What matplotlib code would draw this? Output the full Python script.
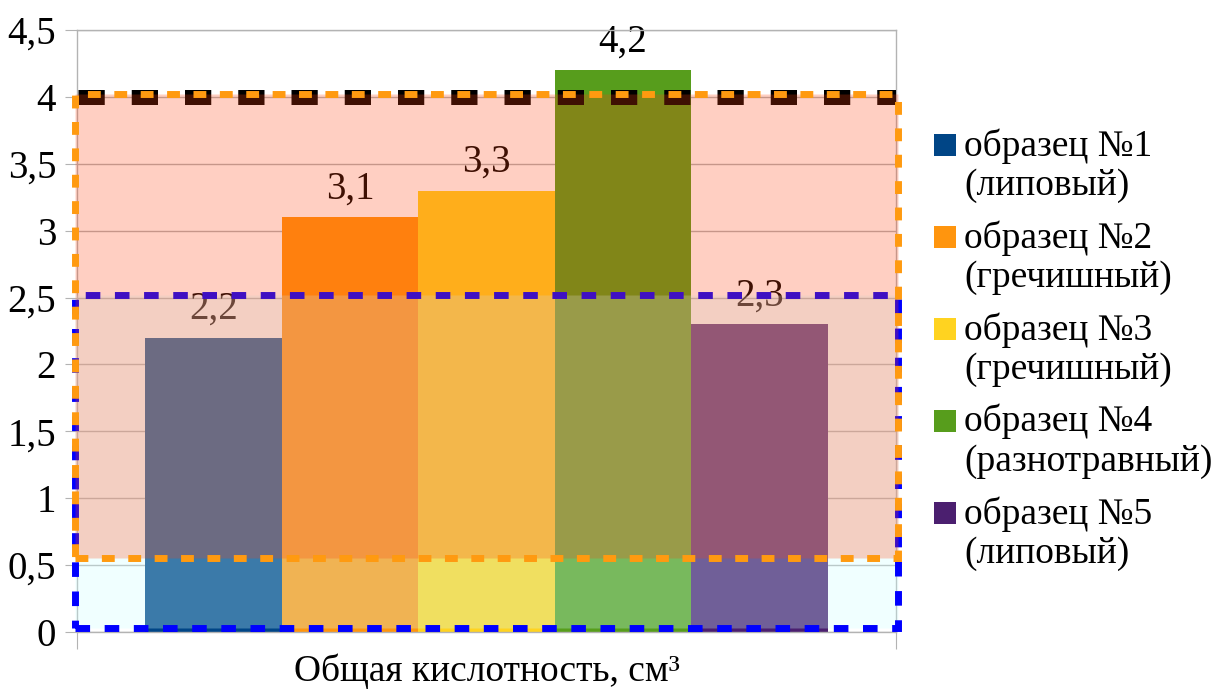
import numpy as np
import matplotlib
matplotlib.use("Agg")
import matplotlib.pyplot as plt
import matplotlib.patches as mpatches
from matplotlib import font_manager

serif_path = font_manager.findfont(font_manager.FontProperties(family='Liberation Serif'))

def fp(size):
    return font_manager.FontProperties(fname=serif_path, size=size)

# data
samples = ['образец №1', 'образец №2', 'образец №3', 'образец №4', 'образец №5']
kinds = ['липовый', 'гречишный', 'гречишный', 'разнотравный', 'липовый']
values = [2.2, 3.1, 3.3, 4.2, 2.3]
colors = ['#004586', '#ff950e', '#ffd320', '#579d1c', '#4b1f6f']
yticks = [0, 0.5, 1, 1.5, 2, 2.5, 3, 3.5, 4, 4.5]
ytick_labels = ['0', '0,5', '1', '1,5', '2', '2,5', '3', '3,5', '4', '4,5']
xlabel = 'Общая кислотность, см³'

# overlay zones (y ranges)
upper_zone = (0.55, 4.02)
lower_zone = (0.03, 2.52)
limit_line = 4.0

def comma(v):
    return ('%g' % v).replace('.', ',')

W, H = 1219, 689
fig = plt.figure(figsize=(W / 100, H / 100), dpi=100)
ax = fig.add_axes([77 / W, 1 - 632 / H, (896 - 77) / W, (632 - 30) / H])

n = len(values)
bw = 0.8333 / n
xs = (np.arange(n) - (n - 1) / 2) * bw
bars = ax.bar(xs, values, width=bw, color=colors, zorder=2)

for x, v in zip(xs, values):
    ax.annotate(comma(v), (x, v), xytext=(0, 7), textcoords='offset points',
                ha='center', va='bottom', fontproperties=fp(28),
                color='black', zorder=2.5)

ax.set_xlim(-0.5, 0.5)
ax.set_ylim(0, 4.5)
ax.set_yticks(yticks)
ax.set_yticklabels(ytick_labels, fontproperties=fp(28))
ax.set_xticks([-0.5, 0.5])
ax.set_xticklabels(['', ''])
ax.tick_params(axis='y', length=9, color='#b3b3b3', pad=6)
ax.tick_params(axis='x', length=12, color='#b3b3b3')
ax.grid(axis='y', color='#b3b3b3', lw=1, zorder=0.5)
ax.set_axisbelow(True)
for s in ax.spines.values():
    s.set_color('#b3b3b3')
    s.set_linewidth(1)

ax.set_xlabel(xlabel, fontproperties=fp(27), labelpad=0)

# black limit line
ax.axhline(limit_line, xmin=0.001, xmax=1.0, color='black', lw=10.8,
           linestyle=(0, (1.75, 1.8)), zorder=3)

# lower zone (blue)
blue = mpatches.Rectangle((-0.502, lower_zone[0]), 1.0045, lower_zone[1] - lower_zone[0],
                          facecolor=(0.80, 1.0, 1.0, 0.29), edgecolor='#0000ff',
                          lw=5, linestyle=(0, (2.1, 2.1)), zorder=4, clip_on=False)
ax.add_patch(blue)

# upper zone (orange)
orange = mpatches.Rectangle((-0.502, upper_zone[0]), 1.005, upper_zone[1] - upper_zone[0],
                            facecolor=(1.0, 0.259, 0.055, 0.25), edgecolor='#ff9a10',
                            lw=5, linestyle=(0, (1.85, 1.95)), zorder=5, clip_on=False)
ax.add_patch(orange)

# legend drawn by hand so that the square sits at the first line
for i in range(n):
    top = 134 + 92 * i
    fig.patches.append(mpatches.Rectangle((934 / W, 1 - (top + 22) / H), 22 / W, 22 / H,
                                          transform=fig.transFigure, facecolor=colors[i],
                                          edgecolor='none'))
    fig.text(964 / W, 1 - (top - 6) / H, samples[i] + '\n(' + kinds[i] + ')',
             fontproperties=fp(27), va='top', ha='left', linespacing=1.2)

fig.savefig('out.png', dpi=100)
